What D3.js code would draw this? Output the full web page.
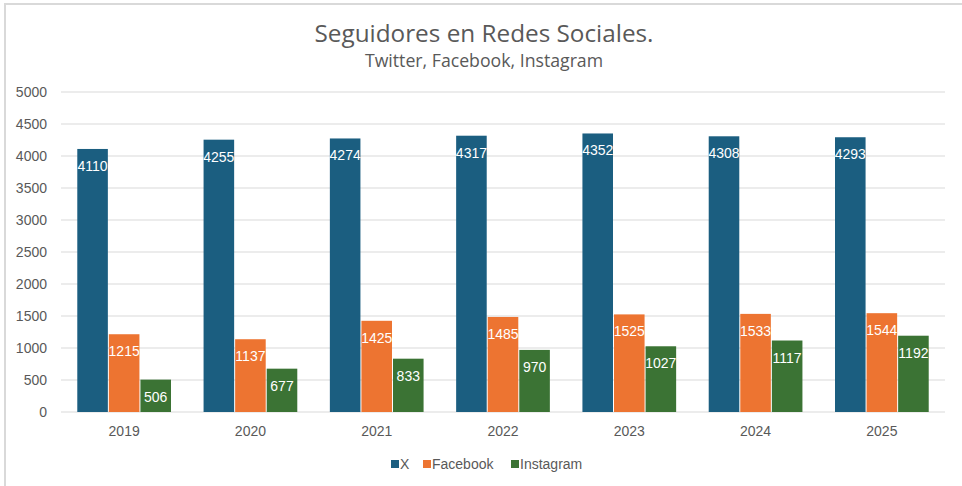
<!DOCTYPE html>
<html><head><meta charset="utf-8">
<script src="https://cdn.jsdelivr.net/npm/d3@7"></script>
<style>body{margin:0;background:#fff}svg{display:block}</style>
</head><body>
<svg id="c" width="962" height="486"></svg>
<script>
const years = ["2019","2020","2021","2022","2023","2024","2025"];
const seriesNames = ["X","Facebook","Instagram"];
const xValues = [4110,4255,4274,4317,4352,4308,4293];
const facebookValues = [1215,1137,1425,1485,1525,1533,1544];
const instagramValues = [506,677,833,970,1027,1117,1192];
const yTicks = [0,500,1000,1500,2000,2500,3000,3500,4000,4500,5000];
const colors = ["#1B5E80","#ED7431","#3B7334"];

const seriesValues = [xValues, facebookValues, instagramValues];
const svg = d3.select("#c");
const font = "'Liberation Sans', Arial, sans-serif";
const titleFont = "'Open Sans', sans-serif";

svg.append("rect").attr("x",5).attr("y",4).attr("width",1000).attr("height",600)
  .attr("fill","#fff").attr("stroke","#d9d9d9").attr("stroke-width",2);

const pLeft = 61, pRight = 945, pTop = 92, pBottom = 412;
const x0 = d3.scaleBand().domain(years).range([pLeft,pRight]).paddingInner(0.25).paddingOuter(0.125);
const x1 = d3.scaleBand().domain(seriesNames).range([0,x0.bandwidth()]);
const y = d3.scaleLinear().domain([0,5000]).range([pBottom,pTop]);

// gridlines
svg.append("g").selectAll("line").data(yTicks).join("line")
  .attr("x1",pLeft).attr("x2",pRight).attr("y1",d=>y(d)).attr("y2",d=>y(d))
  .attr("stroke","#d9d9d9").attr("stroke-width",1);

// y axis
const yAxis = svg.append("g").attr("transform",`translate(${pLeft},0)`)
  .call(d3.axisLeft(y).tickValues(yTicks).tickSize(0).tickPadding(14).tickFormat(d3.format("d")));
yAxis.select(".domain").remove();
yAxis.selectAll("text").attr("font-family",font).attr("font-size",14).attr("fill","#595959");

// x axis
const xAxis = svg.append("g").attr("transform",`translate(0,${pBottom})`)
  .call(d3.axisBottom(x0).tickSize(0).tickPadding(14));
xAxis.select(".domain").remove();
xAxis.selectAll("text").attr("font-family",font).attr("font-size",14).attr("fill","#595959");

// bars
const data = [];
years.forEach((yr,i)=>seriesNames.forEach((s,j)=>data.push({yr,s,j,v:seriesValues[j][i]})));
const g = svg.append("g");
g.selectAll("rect").data(data).join("rect")
  .attr("x",d=>x0(d.yr)+x1(d.s)+0.5)
  .attr("width",x1.bandwidth()-1)
  .attr("y",d=>y(d.v))
  .attr("height",d=>pBottom-y(d.v))
  .attr("fill",d=>colors[d.j]);
g.selectAll("text").data(data).join("text")
  .attr("x",d=>x0(d.yr)+x1(d.s)+x1.bandwidth()/2)
  .attr("y",d=>y(d.v)+22)
  .attr("text-anchor","middle")
  .attr("font-family",font).attr("font-size",14).attr("fill","#fff")
  .text(d=>d.v);

// title
svg.append("text").attr("x",484).attr("y",42).attr("text-anchor","middle")
  .attr("font-family",titleFont).attr("font-size",24.3).attr("fill","#595959")
  .text("Seguidores en Redes Sociales.");
svg.append("text").attr("x",484).attr("y",67).attr("text-anchor","middle")
  .attr("font-family",titleFont).attr("font-size",17.7).attr("fill","#595959")
  .text("Twitter, Facebook, Instagram");

// legend
const legendX = [391, 423, 511];
const lg = svg.append("g");
seriesNames.forEach((s,j)=>{
  lg.append("rect").attr("x",legendX[j]).attr("y",460).attr("width",8).attr("height",8).attr("fill",colors[j]);
  lg.append("text").attr("x",legendX[j]+9).attr("y",468.5).attr("font-family",font).attr("font-size",14)
    .attr("fill","#595959").text(s);
});
</script>
</body></html>
